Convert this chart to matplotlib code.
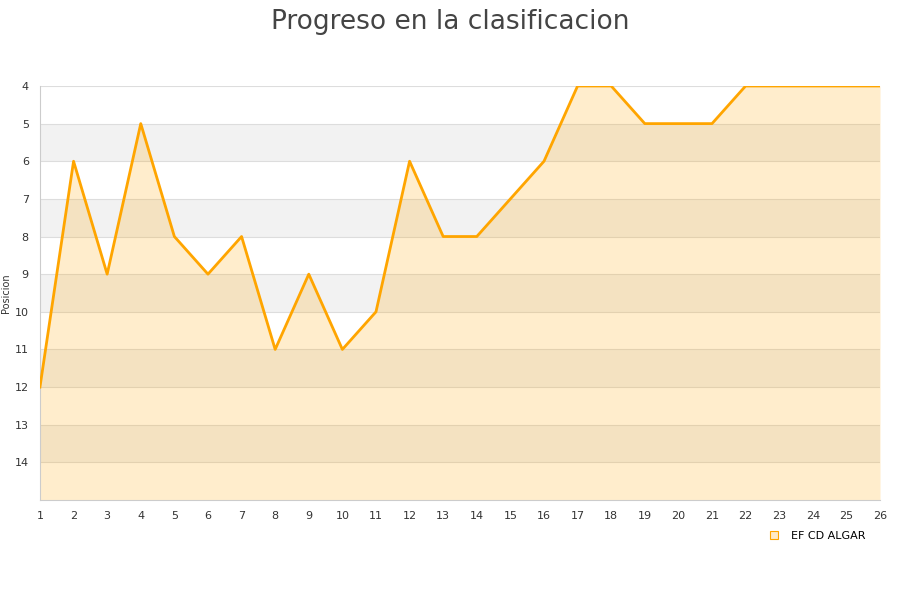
import matplotlib
matplotlib.use("Agg")
import matplotlib.pyplot as plt
from matplotlib.lines import Line2D

jornadas = list(range(1, 27))
posicion = [12, 6, 9, 5, 8, 9, 8, 11, 9, 11, 10, 6, 8, 8, 7, 6, 4, 4, 5, 5, 5, 4, 4, 4, 4, 4]
equipo = "EF CD ALGAR"
y_ticks = list(range(4, 15))

fig = plt.figure(figsize=(9, 6), dpi=100)
ax = fig.add_axes([0.0444, 0.1667, 0.9334, 0.69])

# alternating background bands
for y0 in range(5, 15, 2):
    ax.axhspan(y0, y0 + 1, color="#f2f2f2", zorder=0, lw=0)
for y in y_ticks:
    ax.axhline(y, color="#dddddd", lw=0.8, zorder=1)

ax.fill_between(jornadas, posicion, 15, color="#ffa500", alpha=0.2, lw=0, zorder=2)
ax.plot(jornadas, posicion, color="#ffa500", lw=2, zorder=3)

ax.set_xlim(1, 26)
ax.set_ylim(15, 4)
ax.set_xticks(jornadas)
ax.set_yticks(y_ticks)
ax.tick_params(length=0, labelsize=8, colors="#333333", pad=8)
for s in ["top", "right"]:
    ax.spines[s].set_visible(False)
for s in ["left", "bottom"]:
    ax.spines[s].set_color("#cccccc")
ax.set_ylabel("Posicion", fontsize=7, color="#333333")
ax.yaxis.set_label_coords(-0.034, 0.5)

fig.suptitle("Progreso en la clasificacion", fontsize=19, color="#444444", y=0.985)

handle = Line2D([], [], marker="s", ls="none", markersize=6,
                markerfacecolor="#ffebc8", markeredgecolor="#ffa500", markeredgewidth=0.8)
fig.legend([handle], [equipo], loc="center", bbox_to_anchor=(0.905, 0.107),
           frameon=False, fontsize=8, handletextpad=0.5)

fig.savefig("out.png", dpi=100)
